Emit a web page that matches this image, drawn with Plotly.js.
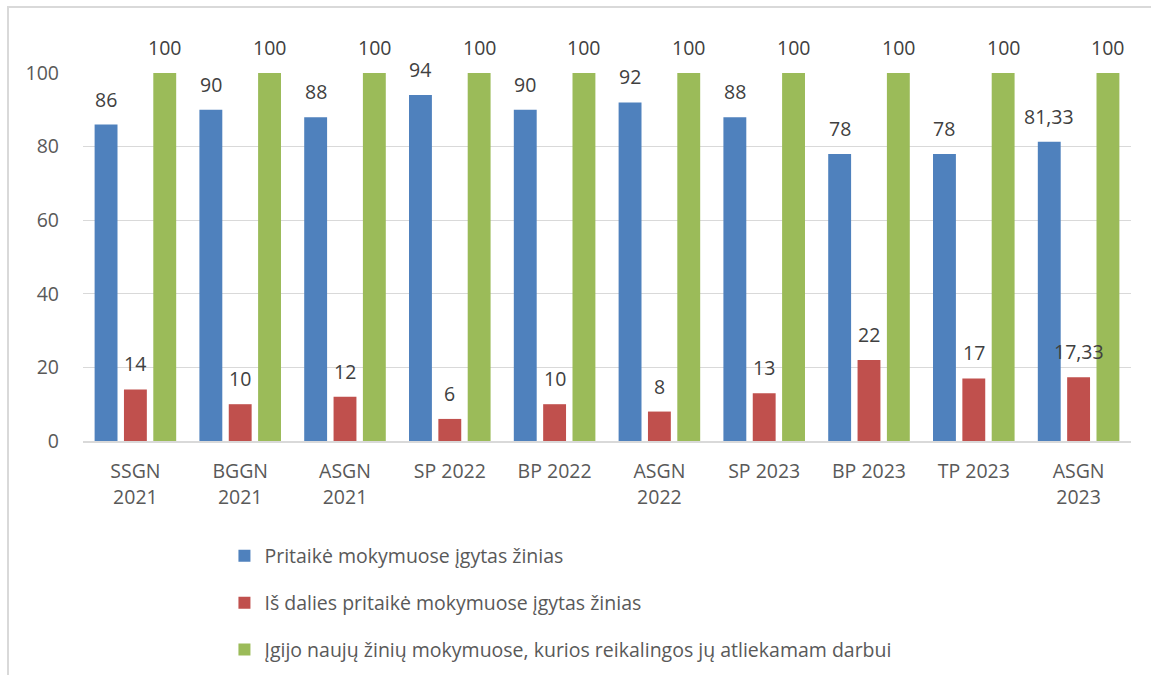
<!DOCTYPE html>
<html>
<head>
<meta charset="utf-8">
<script src="https://cdn.plot.ly/plotly-3.0.1.min.js"></script>
<style>
html,body{margin:0;padding:0;background:#fff;}
#chart{position:absolute;left:0;top:0;width:1151px;height:675px;}
#frame{position:absolute;left:7px;top:6px;width:1200px;height:700px;border-left:2px solid #d9d9d9;border-top:2px solid #d9d9d9;pointer-events:none;}
</style>
</head>
<body>
<div id="chart"></div>
<div id="frame"></div>
<script>
const categories = ["SSGN<br>2021","BGGN<br>2021","ASGN<br>2021","SP 2022","BP 2022","ASGN<br>2022","SP 2023","BP 2023","TP 2023","ASGN<br>2023"];
const seriesNames = [
  "Pritaikė mokymuose įgytas žinias",
  "Iš dalies pritaikė mokymuose įgytas žinias",
  "Įgijo naujų žinių mokymuose, kurios reikalingos jų atliekamam darbui"
];
const applied = [86, 90, 88, 94, 90, 92, 88, 78, 78, 81.33];
const partlyApplied = [14, 10, 12, 6, 10, 8, 13, 22, 17, 17.33];
const gainedNew = [100, 100, 100, 100, 100, 100, 100, 100, 100, 100];
const yTicks = [0, 20, 40, 60, 80, 100];

const colors = ["#4f81bd", "#c0504d", "#9bbb59"];
const allSeries = [applied, partlyApplied, gainedNew];
const fmt = v => String(v).replace('.', ',');
const FONT = "Open Sans, sans-serif";
const FS = 19.5;
const BARGAP = 0.16;
const SLOT = (1 - BARGAP) / allSeries.length;

const traces = allSeries.map((vals, i) => ({
  type: 'bar',
  name: seriesNames[i],
  x: categories,
  y: vals,
  marker: {color: colors[i]},
  legendgroup: 'g' + i,
  hoverinfo: 'x+y'
}));

const annotations = [];
allSeries.forEach((vals, s) => {
  vals.forEach((v, i) => {
    annotations.push({
      xref: 'x', yref: 'y',
      x: i + (s - (allSeries.length - 1) / 2) * SLOT,
      y: v,
      text: fmt(v),
      showarrow: false,
      xanchor: 'center', yanchor: 'bottom',
      yshift: 10,
      font: {family: FONT, size: FS, color: '#404040'}
    });
  });
});

const layout = {
  width: 1151, height: 675,
  margin: {l: 83, r: 20, t: 73, b: 234, autoexpand: false},
  paper_bgcolor: '#fff', plot_bgcolor: '#fff',
  barmode: 'group',
  bargap: BARGAP,
  bargroupgap: 0.22,
  font: {family: FONT, size: FS, color: '#595959'},
  annotations: annotations,
  xaxis: {
    type: 'category',
    showgrid: false,
    showline: true, linecolor: '#d9d9d9', linewidth: 2,
    ticks: '', tickangle: 0, automargin: false,
    tickfont: {family: FONT, size: FS, color: '#595959'},
    ticklabelstandoff: 12
  },
  yaxis: {
    range: [0, 100],
    tickvals: yTicks,
    ticktext: yTicks.map(String),
    showgrid: true, gridcolor: '#d9d9d9', gridwidth: 1,
    zeroline: false, showline: false, automargin: false,
    ticks: '', ticklabelstandoff: 23,
    tickfont: {family: FONT, size: FS, color: '#595959'}
  },
  showlegend: true,
  legend: {
    orientation: 'v',
    xref: 'container', yref: 'container',
    x: 0.195, xanchor: 'left',
    y: 0.205, yanchor: 'top',
    tracegroupgap: 18.5,
    font: {family: FONT, size: FS, color: '#595959'},
    bgcolor: 'rgba(0,0,0,0)'
  }
};

Plotly.newPlot('chart', traces, layout, {staticPlot: true});
</script>
</body>
</html>
